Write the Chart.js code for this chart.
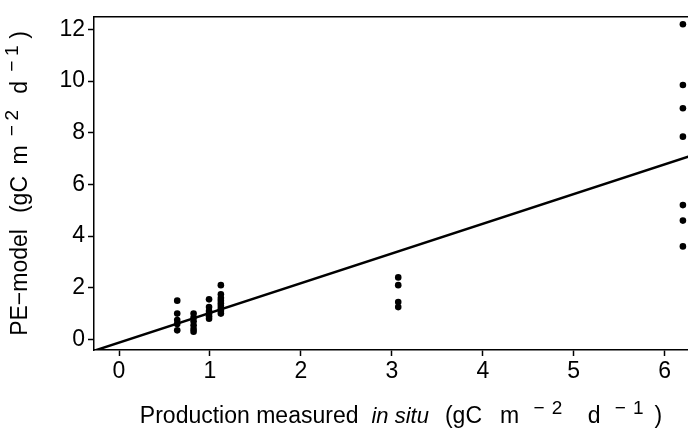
<!DOCTYPE html>
<html>
<head>
<meta charset="utf-8">
<script src="https://cdn.jsdelivr.net/npm/chart.js@4.4.1/dist/chart.umd.min.js"></script>
<style>
  html, body { margin: 0; padding: 0; background: #fff; overflow: hidden; }
  canvas { display: block; }
</style>
</head>
<body>
<canvas id="peChart" width="700" height="439"></canvas>
<script>
// production measured in situ (gC m-2 d-1), one entry per station group
const insituX = [0.64, 0.82, 0.99, 1.12, 3.07, 6.2];
// PE-model estimates for each group
const modelY = [
  [1.5, 1.0, 0.75, 0.6, 0.35],
  [1.0, 0.85, 0.7, 0.55, 0.4, 0.3],
  [1.55, 1.25, 1.1, 1.0, 0.9, 0.8],
  [2.1, 1.75, 1.6, 1.5, 1.4, 1.3, 1.2, 1.1, 1.0],
  [2.4, 2.1, 1.45, 1.25],
  [12.2, 9.85, 8.95, 7.85, 5.2, 4.6, 3.6]
];
// fitted line end points
const fitX = [-0.275, 6.3];
const fitY = [-0.44, 7.12];

const xTicks = [0, 1, 2, 3, 4, 5, 6];
const yTicks = [0, 2, 4, 6, 8, 10, 12];

const FONT = "'Liberation Sans', Arial, sans-serif";
const SIZE = 23;
const SUP = 19;

const points = [];
insituX.forEach((x, i) => {
  modelY[i].forEach(y => points.push({ x: x, y: y }));
});
const fitLine = fitX.map((x, i) => ({ x: x, y: fitY[i] }));

// unit part "(gC m^-2 d^-1)" written out piece by piece, k widens the spacing
function unitParts(k) {
  return [
    { text: '(gC', gap: 16 },
    { text: 'm', gap: 10 * k },
    { text: '\u2212', sup: true, gap: 8 * k },
    { text: '2', sup: true, gap: 4 * k },
    { text: 'd', gap: 14 * k },
    { text: '\u2212', sup: true, gap: 8 * k },
    { text: '1', sup: true, gap: 4 * k },
    { text: ')', gap: 6 * k }
  ];
}

function partFont(p) {
  return (p.italic ? 'italic ' : '') + (p.size || (p.sup ? SUP : SIZE)) + 'px ' + FONT;
}

// draws a run of text pieces centred on cx along the current direction
function drawRich(ctx, parts, cx, baseline) {
  let total = 0;
  parts.forEach((p, i) => {
    ctx.font = partFont(p);
    p.w = ctx.measureText(p.text).width;
    total += p.w + (i > 0 ? (p.gap || 0) : 0);
  });
  let x = cx - total / 2;
  parts.forEach((p, i) => {
    if (i > 0) x += p.gap || 0;
    ctx.font = partFont(p);
    ctx.fillText(p.text, x, baseline - (p.sup ? 9 : 0));
    x += p.w;
  });
}

// top frame line and both axis titles
const decorations = {
  id: 'decorations',
  afterDraw(chart) {
    const ctx = chart.ctx;
    const area = chart.chartArea;
    ctx.save();
    ctx.strokeStyle = '#000';
    ctx.lineWidth = 1.5;
    ctx.beginPath();
    ctx.moveTo(area.left, area.top);
    ctx.lineTo(area.right, area.top);
    ctx.stroke();

    ctx.fillStyle = '#000';
    ctx.textAlign = 'left';
    ctx.textBaseline = 'alphabetic';

    const xTitle = [
      { text: 'Production measured' },
      { text: 'in situ', italic: true, size: 22, gap: 13 }
    ].concat(unitParts(1.8));
    drawRich(ctx, xTitle, 401, 423);

    const yTitle = [{ text: 'PE\u2212model' }].concat(unitParts(1.15));
    ctx.translate(27, (area.top + area.bottom) / 2);
    ctx.rotate(-Math.PI / 2);
    drawRich(ctx, yTitle, 0, 0);
    ctx.restore();
  }
};

new Chart(document.getElementById('peChart'), {
  type: 'scatter',
  data: {
    datasets: [
      {
        type: 'line',
        data: fitLine,
        borderColor: '#000',
        borderWidth: 2.5,
        pointRadius: 0,
        fill: false
      },
      {
        data: points,
        backgroundColor: '#000',
        borderColor: '#000',
        pointRadius: 3.3,
        borderWidth: 0
      }
    ]
  },
  options: {
    responsive: false,
    animation: false,
    devicePixelRatio: 1,
    layout: { padding: { top: 5, right: 8, left: 0, bottom: 0 } },
    plugins: {
      legend: { display: false },
      tooltip: { enabled: false }
    },
    scales: {
      x: {
        type: 'linear',
        min: -0.275,
        max: 6.3,
        afterBuildTicks: s => { s.ticks = xTicks.map(v => ({ value: v })); },
        afterFit: s => { s.height = 89; },
        grid: { drawOnChartArea: false, color: '#000', tickLength: 6, tickWidth: 1.5 },
        border: { color: '#000', width: 1.5 },
        ticks: { color: '#000', font: { family: FONT, size: SIZE }, padding: 2, maxRotation: 0 }
      },
      y: {
        min: -0.41,
        max: 12.49,
        afterBuildTicks: s => { s.ticks = yTicks.map(v => ({ value: v })); },
        afterFit: s => { s.width = 94; },
        grid: { drawOnChartArea: false, color: '#000', tickLength: 6, tickWidth: 1.5 },
        border: { color: '#000', width: 1.5 },
        ticks: { color: '#000', font: { family: FONT, size: SIZE }, padding: 3 }
      }
    }
  },
  plugins: [decorations]
});
</script>
</body>
</html>
